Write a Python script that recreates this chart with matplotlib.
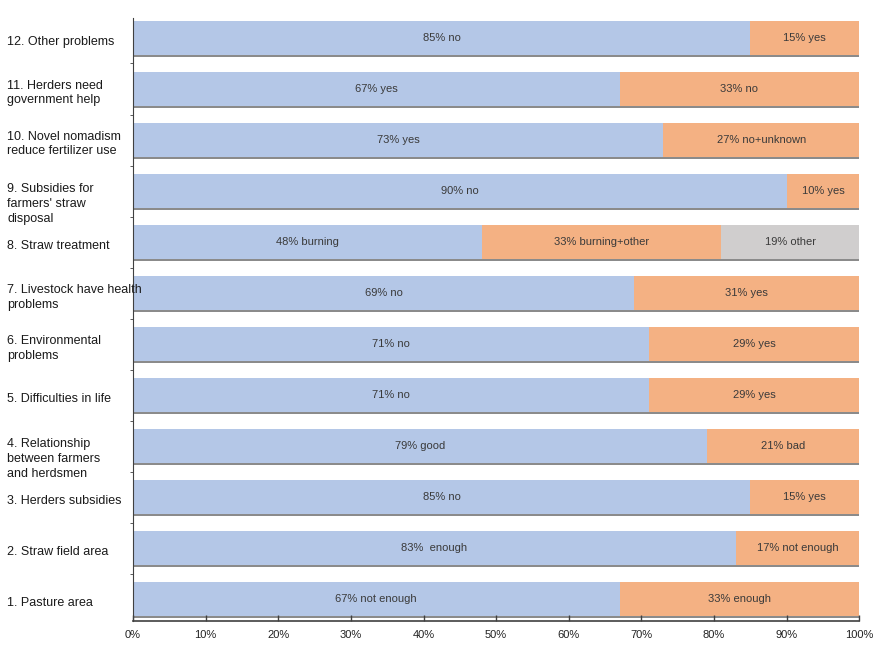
import matplotlib
matplotlib.use("Agg")
import matplotlib.pyplot as plt
import matplotlib.patheffects as pe
from matplotlib.ticker import FixedLocator, PercentFormatter

plt.rcParams["font.family"] = ["Liberation Sans Narrow", "Liberation Sans", "DejaVu Sans"]

# Survey items, bottom to top
items = [
    "1. Pasture area",
    "2. Straw field area",
    "3. Herders subsidies",
    "4. Relationship\nbetween farmers\nand herdsmen",
    "5. Difficulties in life",
    "6. Environmental\nproblems",
    "7. Livestock have health\nproblems",
    "8. Straw treatment",
    "9. Subsidies for\nfarmers' straw\ndisposal",
    "10. Novel nomadism\nreduce fertilizer use",
    "11. Herders need\ngovernment help",
    "12. Other problems",
]

# Share of answers (%) for each segment
first_pct = [67, 83, 85, 79, 71, 71, 69, 48, 90, 73, 67, 85]
second_pct = [33, 17, 15, 21, 29, 29, 31, 33, 10, 27, 33, 15]
third_pct = [0, 0, 0, 0, 0, 0, 0, 19, 0, 0, 0, 0]

first_txt = ["not enough", " enough", "no", "good", "no", "no", "no", "burning",
             "no", "yes", "yes", "no"]
second_txt = ["enough", "not enough", "yes", "bad", "yes", "yes", "yes",
              "burning+other", "yes", "no+unknown", "no", "yes"]
third_txt = ["", "", "", "", "", "", "", "other", "", "", "", ""]

blue = "#b4c7e7"
orange = "#f4b183"
grey = "#d0cece"

fig = plt.figure(figsize=(8.75, 6.5), dpi=100)
ax = fig.add_axes([0.152, 0.045, 0.830, 0.928])

ypos = list(range(len(items)))
shadow = [pe.SimplePatchShadow(offset=(0.6, -1.6), shadow_rgbFace="#7f7f7f", alpha=0.9),
          pe.Normal()]

segments = [(first_pct, first_txt, blue), (second_pct, second_txt, orange),
            (third_pct, third_txt, grey)]
left = [0] * len(items)
for vals, txts, col in segments:
    bars = ax.barh(ypos, vals, left=left, height=0.66, color=col, edgecolor="none")
    for b in bars:
        b.set_path_effects(shadow)
    for y, v, l, t in zip(ypos, vals, left, txts):
        if v > 0:
            ax.text(l + v / 2, y, f"{v}% {t}", ha="center", va="center",
                    fontsize=8, color="#3a3a3a")
    left = [a + b for a, b in zip(left, vals)]

ax.set_xlim(0, 100)
ax.set_ylim(-0.42, len(items) - 0.6)
ax.xaxis.set_major_locator(FixedLocator(range(0, 101, 10)))
ax.xaxis.set_major_formatter(PercentFormatter(decimals=0))
ax.tick_params(axis="x", direction="in", length=4, width=1, color="#404040",
               labelsize=8, labelcolor="#222222", pad=7)

# y labels drawn left-aligned near the figure edge
ax.set_yticks([])
ax.yaxis.set_minor_locator(FixedLocator([y + 0.5 for y in ypos]))
ax.tick_params(axis="y", which="minor", direction="out", length=2, color="#404040")
for y, name in zip(ypos, items):
    nlines = name.count("\n") + 1
    shift = 0.25 if nlines == 3 else 0.08
    ax.text(-0.173, y - shift, name, transform=ax.get_yaxis_transform(),
            ha="left", va="center", fontsize=9, color="#1a1a1a", linespacing=1.3)

for s in ("top", "right"):
    ax.spines[s].set_visible(False)
ax.spines["left"].set_color("#404040")
ax.spines["bottom"].set_color("#404040")
ax.spines["bottom"].set_linewidth(1.2)

fig.savefig("out.png", dpi=100)
